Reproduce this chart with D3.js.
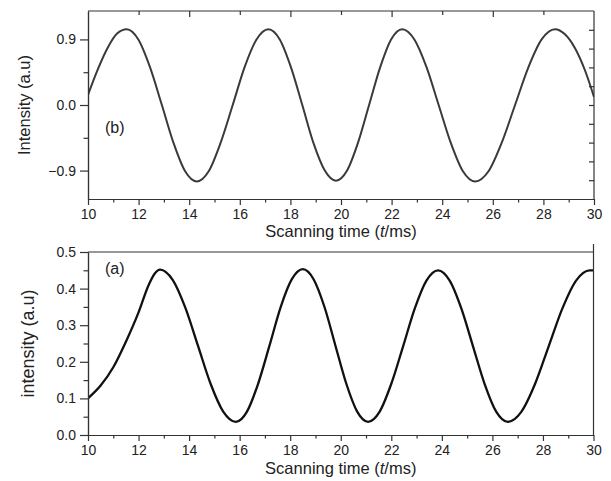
<!DOCTYPE html>
<html>
<head>
<meta charset="utf-8">
<script src="https://cdn.jsdelivr.net/npm/d3@7/dist/d3.min.js"></script>
<style>
  body { margin: 0; background: #fff; }
  svg { display: block; }
  .axis text { font-family: "Liberation Sans", Arial, sans-serif; font-size: 14px; fill: #222; }
  .axis path, .axis line { stroke: #333; stroke-width: 1.2; }
  .title { font-family: "Liberation Sans", Arial, sans-serif; fill: #222; }
</style>
</head>
<body>
<svg id="chart" width="611" height="481"></svg>
<script>
// panel (b), upper curve
var time_b = [10.0, 10.4, 10.8, 11.15, 11.53,
              11.99, 12.45, 12.92, 13.38, 13.84, 14.30,
              14.77, 15.24, 15.72, 16.19, 16.66, 17.13,
              17.58, 18.02, 18.47, 18.91, 19.36, 19.80,
              20.24, 20.67, 21.11, 21.55, 21.98, 22.42,
              22.90, 23.38, 23.86, 24.34, 24.82, 25.30,
              25.83, 26.35, 26.88, 27.41, 27.93, 28.46,
              28.85, 29.25, 29.65, 30.0];
var intensity_b = [0.14, 0.50, 0.80, 0.98, 1.04,
                   0.90, 0.52, 0.00, -0.52, -0.91, -1.05,
                   -0.91, -0.52, 0.00, 0.52, 0.90, 1.04,
                   0.90, 0.52, 0.00, -0.52, -0.90, -1.04,
                   -0.90, -0.52, 0.00, 0.52, 0.90, 1.04,
                   0.90, 0.52, 0.00, -0.52, -0.91, -1.05,
                   -0.91, -0.52, 0.00, 0.52, 0.90, 1.04,
                   0.97, 0.78, 0.47, 0.11];

// panel (a), lower curve
var time_a = [10.0, 10.5, 11.0, 11.5, 12.0, 12.4, 12.65, 12.85,
              13.35, 13.85, 14.35, 14.85, 15.35, 15.85,
              16.29, 16.73, 17.18, 17.62, 18.06, 18.50,
              18.93, 19.36, 19.79, 20.22, 20.65, 21.08,
              21.54, 22.00, 22.47, 22.93, 23.39, 23.85,
              24.31, 24.77, 25.23, 25.69, 26.15, 26.61,
              27.15, 27.69, 28.23, 28.77, 29.31, 29.85, 30.0];
var intensity_a = [0.100, 0.135, 0.185, 0.255, 0.335, 0.410, 0.442, 0.452,
                   0.424, 0.348, 0.244, 0.140, 0.064, 0.036,
                   0.064, 0.140, 0.244, 0.349, 0.425, 0.453,
                   0.425, 0.349, 0.244, 0.140, 0.064, 0.036,
                   0.064, 0.140, 0.243, 0.346, 0.422, 0.450,
                   0.422, 0.346, 0.243, 0.140, 0.064, 0.036,
                   0.064, 0.140, 0.243, 0.346, 0.422, 0.450, 0.450];

var x_major = [10, 12, 14, 16, 18, 20, 22, 24, 26, 28, 30];
var x_minor = [11, 13, 15, 17, 19, 21, 23, 25, 27, 29];
var yb_major = [-0.9, 0.0, 0.9];
var yb_minor = [-0.45, 0.45];
var yb_top_long = [14, 18, 22, 26];
var yb_top_short = [12, 16, 20, 24, 28];
var yb_right = [-4, -3, -2, -1, 0, 1, 2, 3, 4];
var ya_major = [0.0, 0.1, 0.2, 0.3, 0.4, 0.5];
var ya_minor = [0.05, 0.15, 0.25, 0.35, 0.45];

var svg = d3.select("#chart");

function draw_panel(p) {
    var x = d3.scaleLinear().domain([10, 30]).range([p.left, p.right]);
    var y = d3.scaleLinear().domain(p.ydomain).range([p.bottom, p.top]);

    var clipId = "clip_" + p.name;
    svg.append("clipPath").attr("id", clipId)
       .append("rect")
       .attr("x", p.left).attr("y", p.top - 4)
       .attr("width", p.right - p.left).attr("height", p.bottom - p.top + 4);

    // curve
    var pts = p.xs.map(function(d, i) { return [d, p.ys[i]]; });
    var line = d3.line()
                 .x(function(d) { return x(d[0]); })
                 .y(function(d) { return y(d[1]); })
                 .curve(d3.curveMonotoneX);
    svg.append("path")
       .datum(pts)
       .attr("clip-path", "url(#" + clipId + ")")
       .attr("d", line)
       .attr("fill", "none")
       .attr("stroke", p.color)
       .attr("stroke-width", p.width)
       .attr("stroke-linejoin", "round");

    // bottom axis
    svg.append("g").attr("class", "axis")
       .attr("transform", "translate(0," + p.bottom + ")")
       .call(d3.axisBottom(x).tickValues(x_minor).tickSize(3.5).tickSizeOuter(0).tickFormat(""));
    svg.append("g").attr("class", "axis")
       .attr("transform", "translate(0," + p.bottom + ")")
       .call(d3.axisBottom(x).tickValues(x_major).tickSize(6).tickSizeOuter(0)
             .tickPadding(4).tickFormat(d3.format("d")));

    // left axis
    svg.append("g").attr("class", "axis")
       .attr("transform", "translate(" + p.left + ",0)")
       .call(d3.axisLeft(y).tickValues(p.yminor).tickSize(4.5).tickSizeOuter(0).tickFormat(""));
    svg.append("g").attr("class", "axis")
       .attr("transform", "translate(" + p.left + ",0)")
       .call(d3.axisLeft(y).tickValues(p.ymajor).tickSize(8).tickSizeOuter(0)
             .tickPadding(4).tickFormat(d3.format(".1f")));

    // top and right frame lines
    svg.append("line")
       .attr("x1", p.left).attr("x2", p.right)
       .attr("y1", p.top).attr("y2", p.top)
       .attr("stroke", "#333").attr("stroke-width", 1.2);
    svg.append("line")
       .attr("x1", p.right).attr("x2", p.right)
       .attr("y1", p.rightTop).attr("y2", p.bottom)
       .attr("stroke", "#333").attr("stroke-width", 1.2);

    // panel letter
    svg.append("text").attr("class", "title")
       .attr("x", p.left + 17).attr("y", p.letterY)
       .style("font-size", "16px")
       .text(p.letter);

    // x title
    var xt = svg.append("text").attr("class", "title")
       .attr("x", (p.left + p.right) / 2).attr("y", p.xtitleY)
       .attr("text-anchor", "middle")
       .style("font-size", "16.5px");
    xt.append("tspan").text("Scanning time (");
    xt.append("tspan").style("font-style", "italic").text("t");
    xt.append("tspan").text("/ms)");

    // y title
    svg.append("text").attr("class", "title")
       .attr("transform", "translate(" + p.ytitleX + "," + ((p.top + p.bottom) / 2) + ") rotate(-90)")
       .attr("text-anchor", "middle")
       .style("font-size", p.ytitleSize + "px")
       .text(p.ytitle);

    return {x: x, y: y};
}

// upper panel (b)
var pb = draw_panel({
    name: "b", left: 88, right: 594, top: 11, bottom: 199,
    ydomain: [-1.29, 1.29], ymajor: yb_major, yminor: yb_minor,
    xs: time_b, ys: intensity_b, color: "#3a3a3a", width: 2,
    rightTop: 11, letter: "(b)", letterY: 133, xtitleY: 237,
    ytitle: "Intensity (a.u)", ytitleX: 30, ytitleSize: 16.5
});

// inner ticks of the upper panel on its top and right sides
var top_x = d3.scaleLinear().domain([10, 30]).range([88, 594]);
svg.append("g").attr("class", "axis")
   .attr("transform", "translate(0,11)")
   .call(d3.axisBottom(top_x).tickValues(yb_top_long).tickSize(6).tickSizeOuter(0).tickFormat(""))
   .select(".domain").remove();
svg.append("g").attr("class", "axis")
   .attr("transform", "translate(0,11)")
   .call(d3.axisBottom(top_x).tickValues(yb_top_short).tickSize(4).tickSizeOuter(0).tickFormat(""))
   .select(".domain").remove();
var right_y = d3.scaleLinear().domain([-5, 5]).range([199, 11]);
svg.append("g").attr("class", "axis")
   .attr("transform", "translate(594,0)")
   .call(d3.axisLeft(right_y).tickValues(yb_right).tickSize(5).tickSizeOuter(0).tickFormat(""))
   .select(".domain").remove();

// lower panel (a)
var pa = draw_panel({
    name: "a", left: 88, right: 593.5, top: 252, bottom: 435,
    ydomain: [0, 0.5], ymajor: ya_major, yminor: ya_minor,
    xs: time_a, ys: intensity_a, color: "#111", width: 2.3,
    rightTop: 244, letter: "(a)", letterY: 274, xtitleY: 474,
    ytitle: "intensity (a.u)", ytitleX: 34, ytitleSize: 18
});
</script>
</body>
</html>
